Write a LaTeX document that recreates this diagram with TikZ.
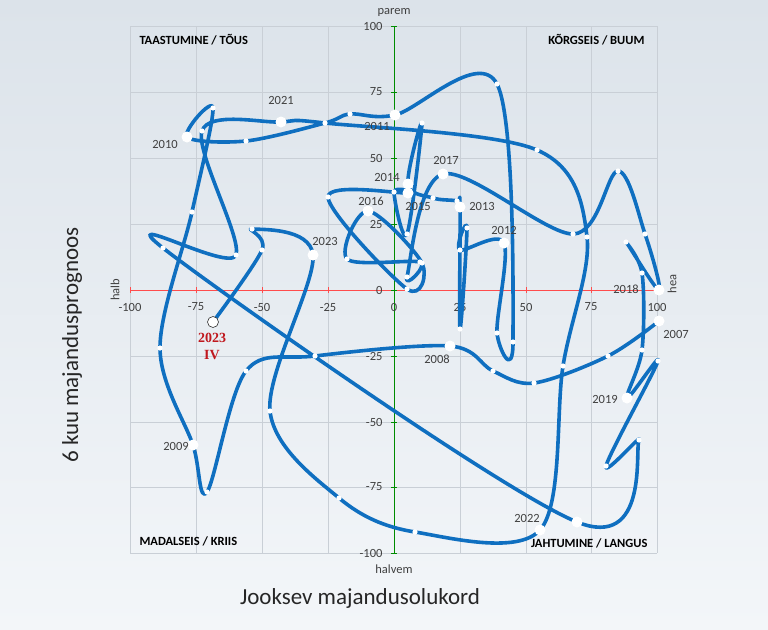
\documentclass[tikz,border=0pt]{standalone}
\usepackage{fontspec}
\setmainfont{Carlito}
\newfontfamily\redserif{Liberation Serif}
\definecolor{bgtop}{HTML}{DCE3EA}
\definecolor{bgbot}{HTML}{F3F6F9}
\definecolor{curveblue}{HTML}{0F6FC0}
\definecolor{gridc}{HTML}{C9CFD6}
\definecolor{labc}{HTML}{404040}
\definecolor{redlab}{HTML}{C0181E}
\begin{document}
\begin{tikzpicture}[x=1pt,y=-1pt,
  curve/.style={curveblue,line width=3.6pt,line cap=round,line join=round},
  sdot/.style={fill=white,draw=none},
  gridl/.style={gridc,line width=0.6pt},
  tick/.style={font=\fontsize{12.5}{12.5}\selectfont,text=labc},
  yr/.style={font=\fontsize{12.5}{12.5}\selectfont,text=labc},
  quad/.style={font=\bfseries\fontsize{12.5}{12.5}\selectfont,text=black}]
\shade[top color=bgtop,bottom color=bgbot] (0,0) rectangle (768,629);
\useasboundingbox (0,0) rectangle (768,629);
% grid
\foreach \gx in {130,196,262,328,460,526,591,657} \draw[gridl] (\gx,26) -- (\gx,553);
\foreach \gy in {26,92,158,224,356,422,487,553} \draw[gridl] (130,\gy) -- (657,\gy);
\draw[red!70,line width=0.8pt] (130,290) -- (657,290);
\foreach \gx in {130,196,262,328,460,526,591,657} \draw[red!70,line width=0.6pt] (\gx,287) -- (\gx,293);
\draw[green!55!black,line width=1pt] (394,26) -- (394,553);
\foreach \gy in {26,92,158,224,290,356,422,487,553} \draw[green!55!black,line width=0.8pt] (391,\gy) -- (397,\gy);
% tick labels
\foreach \v/\gy in {100/26,75/92,50/158,25/224,0/290,-25/356,-50/422,-75/487,-100/553}
  \node[tick,anchor=east] (ty\gy) at (386,\gy) {\v};
\foreach \v/\gx in {-100/130,-75/196,-50/262,-25/328,0/394,25/460,50/526,75/591,100/657}
  \node[tick] (tx\gx) at (\gx,307) {\v};
\node[tick] (parem) at (394,12) {parem};
\node[tick] (halvem) at (394,569) {halvem};
\node[tick,rotate=90] (halb) at (115,290) {halb};
\node[tick,rotate=90] (hea) at (672,284) {hea};
\node[font=\fontsize{23}{23}\selectfont,rotate=90,text=black!85] (ytitle) at (72,345) {6 kuu majandusprognoos};
\node[font=\fontsize{23}{23}\selectfont,text=black!85] (xtitle) at (360,598) {Jooksev majandusolukord};
% quadrant labels
\node[quad,anchor=west] (q1) at (136,40) {TAASTUMINE / TÕUS};
\node[quad,anchor=east] (q2) at (648,40) {KÕRGSEIS / BUUM};
\node[quad,anchor=west] (q3) at (136,541) {MADALSEIS / KRIIS};
\node[quad,anchor=east] (q4) at (651,543) {JAHTUMINE / LANGUS};
% curve
\draw[curve] plot[smooth,tension=0.55] coordinates {
(659,321) (608,356) (534,383) (493,371) (450,346) (315,356) (246,371) (207,492)
(193,445) (160,348) (192,212) (213,108) (187,137) (246,141) (325,123) (350,114)
(395,115) (497,84) (513,342) (497,333) (504,243) (460,250) (467,228) (460,329)
(460,207) (457,201) (433,198) (408,184) (422,123) (407,234) (394,192) (408,193)
(328,197) (407,289) (422,263) (368,211) (347,259) (420,262) (407,277) (443,174)
(573,234) (618,171) (645,234) (659,290) (626,242) (642,273) (642,350) (627,398)
(658,361) (606,466) (639,440) (577,522) (163,248) (236,255) (202,131) (281,122)
(325,123) (537,150) (587,237) (563,366) (540,530) (415,532) (339,498) (270,411)
(313,255) (252,229) (262,250) (213,322)};
% small dots
\foreach \px/\py in {608/356,534/383,493/371,315/356,246/371,207/492,160/348,192/212,213/108,
246/141,325/123,350/114,497/84,513/342,497/333,460/250,467/228,460/329,457/201,433/198,422/123,
407/234,394/192,328/197,407/289,422/263,347/259,420/262,407/277,573/234,618/171,645/234,626/242,
642/273,642/350,658/361,606/466,639/440,163/248,236/255,202/131,537/150,587/237,563/366,415/532,
339/498,270/411,252/229,262/250}
  \fill[sdot] (\px,\py) circle (2.6);
% big dots
\foreach \px/\py in {659/321,450/346,193/445,187/137,395/115,504/243,460/207,408/184,408/193,
368/211,443/174,659/290,627/398,577/522,281/122,540/530,313/255}
  \fill[sdot] (\px,\py) circle (5.5);
\filldraw[fill=white,draw=black!80,line width=0.6pt] (213,322) circle (5.5);
% year labels
\node[yr] (y2021) at (281,100) {2021};
\node[yr] (y2010) at (165,144) {2010};
\node[yr] (y2011) at (377,126) {2011};
\node[yr] (y2014) at (387,177) {2014};
\node[yr] (y2016) at (371,201) {2016};
\node[yr] (y2015) at (418,206) {2015};
\node[yr] (y2017) at (446,160) {2017};
\node[yr] (y2013) at (482,206) {2013};
\node[yr] (y2012) at (504,230) {2012};
\node[yr] (y2023) at (325,241) {2023};
\node[yr] (y2018) at (626,289) {2018};
\node[yr] (y2007) at (676,334) {2007};
\node[yr] (y2008) at (437,359) {2008};
\node[yr] (y2019) at (605,399) {2019};
\node[yr] (y2009) at (176,446) {2009};
\node[yr] (y2022) at (527,518) {2022};
\node[font=\redserif\bfseries\fontsize{14}{14}\selectfont,text=redlab,align=center,inner sep=0pt] (y2023iv) at (212,346) {2023\\[3pt]IV};
\end{tikzpicture}
\end{document}
